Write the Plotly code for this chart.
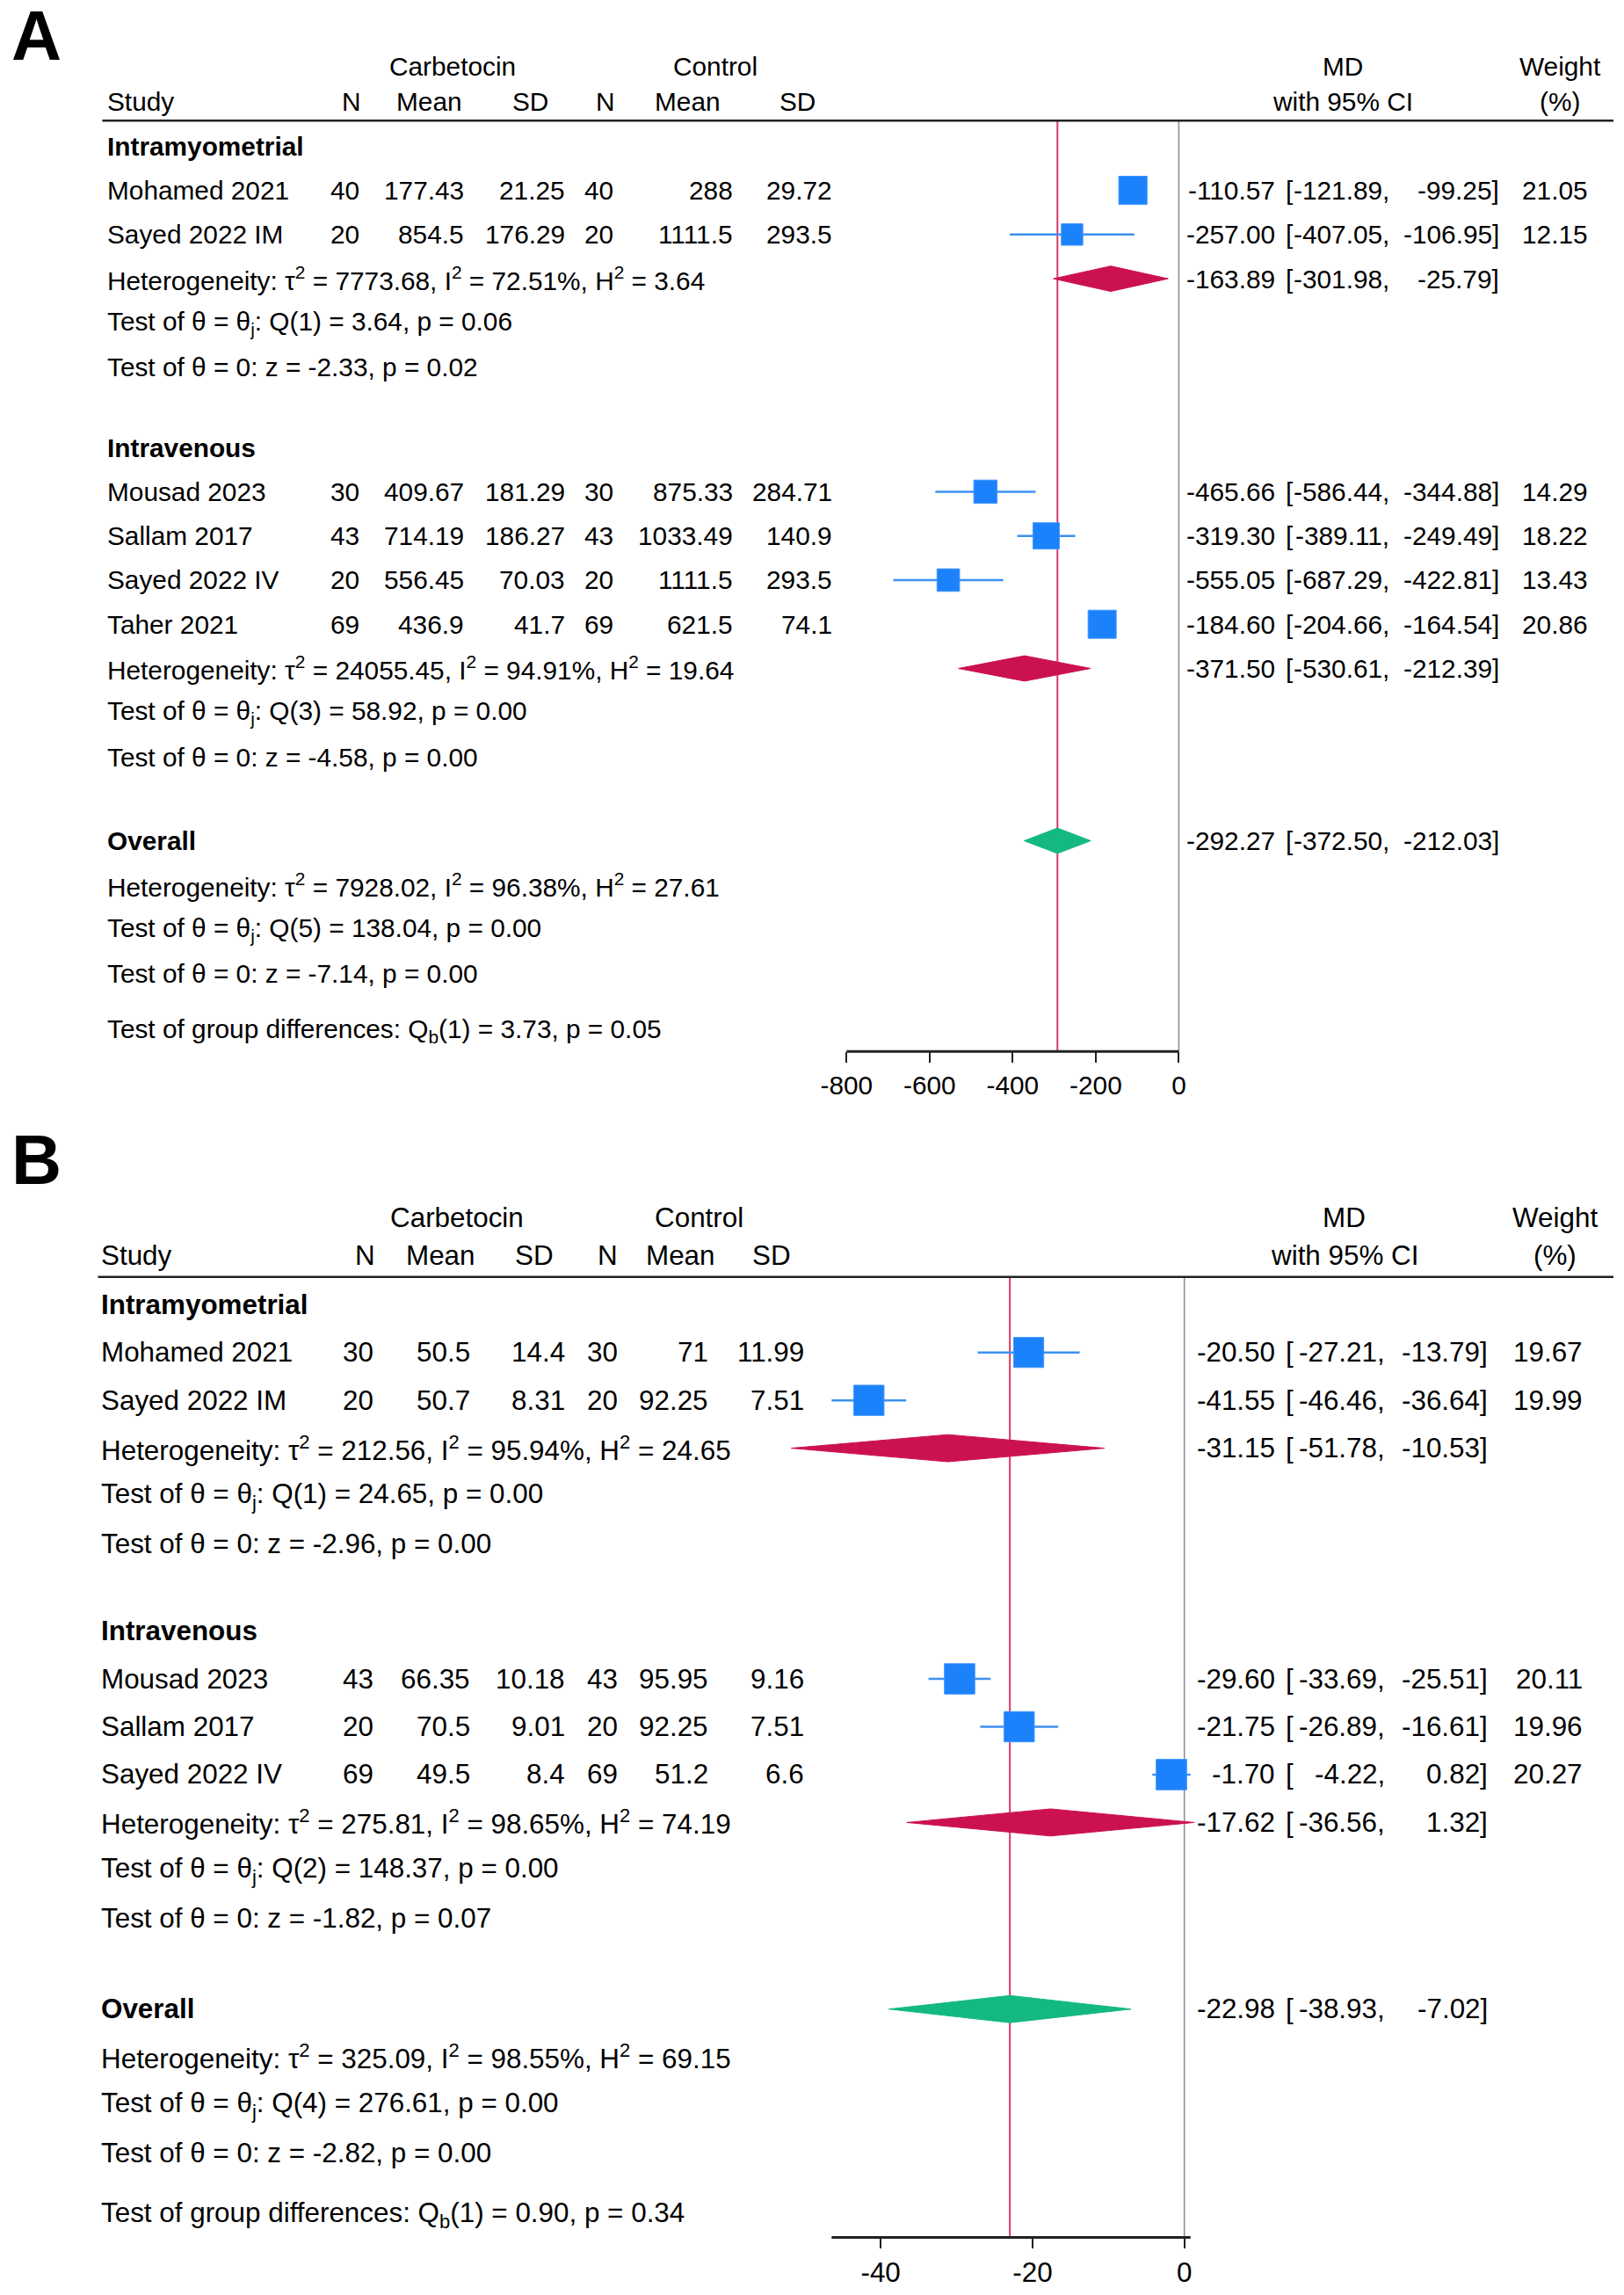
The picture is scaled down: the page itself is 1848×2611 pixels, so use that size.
import plotly.graph_objects as go

W, H = 1848, 2611
OFF = 8  # page body margin of the html file
FW, FH = W - 2 * OFF, H - 2 * OFF
STRETCH = 1.002
FONT = "Liberation Sans, Arial, Helvetica, sans-serif"

# ---------------- Panel A data ----------------
a_groups = ["Intramyometrial", "Intravenous"]
a_group_sizes = [2, 4]
a_study = ["Mohamed 2021", "Sayed 2022 IM", "Mousad 2023", "Sallam 2017", "Sayed 2022 IV", "Taher 2021"]
a_n1 = [40, 20, 30, 43, 20, 69]
a_mean1 = [177.43, 854.5, 409.67, 714.19, 556.45, 436.9]
a_sd1 = [21.25, 176.29, 181.29, 186.27, 70.03, 41.7]
a_n2 = [40, 20, 30, 43, 20, 69]
a_mean2 = [288, 1111.5, 875.33, 1033.49, 1111.5, 621.5]
a_sd2 = [29.72, 293.5, 284.71, 140.9, 293.5, 74.1]
a_md = [-110.57, -257.00, -465.66, -319.30, -555.05, -184.60]
a_lo = [-121.89, -407.05, -586.44, -389.11, -687.29, -204.66]
a_hi = [-99.25, -106.95, -344.88, -249.49, -422.81, -164.54]
a_wt = [21.05, 12.15, 14.29, 18.22, 13.43, 20.86]
# subgroups + overall: estimate, lower, upper
a_sub_md = [-163.89, -371.50, -292.27]
a_sub_lo = [-301.98, -530.61, -372.50]
a_sub_hi = [-25.79, -212.39, -212.03]
# heterogeneity stats: tau2, I2, H2, Q df, Q, p, z, p(z)
a_tau2 = [7773.68, 24055.45, 7928.02]
a_i2 = [72.51, 94.91, 96.38]
a_h2 = [3.64, 19.64, 27.61]
a_qdf = [1, 3, 5]
a_q = [3.64, 58.92, 138.04]
a_qp = [0.06, 0.00, 0.00]
a_z = [-2.33, -4.58, -7.14]
a_zp = [0.02, 0.00, 0.00]
a_qb = [1, 3.73, 0.05]  # df, Qb, p
a_ticks = [-800, -600, -400, -200, 0]

# ---------------- Panel B data ----------------
b_groups = ["Intramyometrial", "Intravenous"]
b_group_sizes = [2, 3]
b_study = ["Mohamed 2021", "Sayed 2022 IM", "Mousad 2023", "Sallam 2017", "Sayed 2022 IV"]
b_n1 = [30, 20, 43, 20, 69]
b_mean1 = [50.5, 50.7, 66.35, 70.5, 49.5]
b_sd1 = [14.4, 8.31, 10.18, 9.01, 8.4]
b_n2 = [30, 20, 43, 20, 69]
b_mean2 = [71, 92.25, 95.95, 92.25, 51.2]
b_sd2 = [11.99, 7.51, 9.16, 7.51, 6.6]
b_md = [-20.50, -41.55, -29.60, -21.75, -1.70]
b_lo = [-27.21, -46.46, -33.69, -26.89, -4.22]
b_hi = [-13.79, -36.64, -25.51, -16.61, 0.82]
b_wt = [19.67, 19.99, 20.11, 19.96, 20.27]
b_sub_md = [-31.15, -17.62, -22.98]
b_sub_lo = [-51.78, -36.56, -38.93]
b_sub_hi = [-10.53, 1.32, -7.02]
b_tau2 = [212.56, 275.81, 325.09]
b_i2 = [95.94, 98.65, 98.55]
b_h2 = [24.65, 74.19, 69.15]
b_qdf = [1, 2, 4]
b_q = [24.65, 148.37, 276.61]
b_qp = [0.00, 0.00, 0.00]
b_z = [-2.96, -1.82, -2.82]
b_zp = [0.00, 0.07, 0.00]
b_qb = [1, 0.90, 0.34]
b_ticks = [-40, -20, 0]

panels = [
    dict(label="A", xa="x", ya="y",
         groups=a_groups, sizes=a_group_sizes, study=a_study,
         cols=[a_n1, a_mean1, a_sd1, a_n2, a_mean2, a_sd2],
         md=a_md, lo=a_lo, hi=a_hi, wt=a_wt,
         smd=a_sub_md, slo=a_sub_lo, shi=a_sub_hi,
         tau2=a_tau2, i2=a_i2, h2=a_h2, qdf=a_qdf, q=a_q, qp=a_qp, z=a_z, zp=a_zp, qb=a_qb,
         ticks=a_ticks, axis_ext=[-800, 0],
         # layout (pixels of the reference picture)
         row0=167, step=50.5, fs=29.8, label_row=-2.5, top_row=-3.0,
         zero_px=1342.7, ppu=0.4752, xr=[-850, 10], sq=7.0, dh=14.5,
         study_x=115, col_r=[407, 527, 642, 698, 835, 948],
         head_c=[396, 485, 601, 687, 781, 906], carb_c=512, ctrl_c=812,
         md_c=1530, wt_c=1779, est_r=1455, brk_l=1463, lo_r=1586, hi_r=1711, wt_r=1813,
         rule_x0=111),
    dict(label="B", xa="x2", ya="y2",
         groups=b_groups, sizes=b_group_sizes, study=b_study,
         cols=[b_n1, b_mean1, b_sd1, b_n2, b_mean2, b_sd2],
         md=b_md, lo=b_lo, hi=b_hi, wt=b_wt,
         smd=b_sub_md, slo=b_sub_lo, shi=b_sub_hi,
         tau2=b_tau2, i2=b_i2, h2=b_h2, qdf=b_qdf, q=b_q, qp=b_qp, z=b_z, zp=b_zp, qb=b_qb,
         ticks=b_ticks, axis_ext=[min(b_lo), max(b_hi)],
         row0=1491, step=54.7, fs=31.4, label_row=-3.03, top_row=-3.2,
         zero_px=1349, ppu=8.686, xr=[-53, 2], sq=7.7, dh=15.5,
         study_x=108, col_r=[423, 534, 642, 703, 806, 916],
         head_c=[412, 498, 605, 689, 773, 877], carb_c=517, ctrl_c=794,
         md_c=1532, wt_c=1773, est_r=1455, brk_l=1463, lo_r=1581, hi_r=1698, wt_r=1807,
         rule_x0=106),
]

BLUE = "#1b82fb"
CI_BLUE = "#3d91f0"
RED = "#cc1152"
GREEN = "#14b97f"
REFLINE = "#d83a62"

fig = go.Figure()
annotations = []
shapes = []
layout_axes = {}


def px_x(px):
    return (px - OFF) / FW


def px_y(py):
    return 1 - (py * STRETCH - OFF) / FH


def txt(p, x_px, row, s, anchor, size=None, bold=False):
    if bold:
        s = "<b>" + s + "</b>"
    annotations.append(dict(
        x=px_x(x_px), xref="paper", y=row, yref=p["ya"], text=s, showarrow=False,
        xanchor=anchor, yanchor="middle",
        font=dict(family=FONT, size=size or p["fs"], color="black")))


def het_lines(p, k):
    return [
        f"Heterogeneity: τ<sup>2</sup> = {p['tau2'][k]:.2f}, I<sup>2</sup> = {p['i2'][k]:.2f}%, "
        f"H<sup>2</sup> = {p['h2'][k]:.2f}",
        f"Test of θ = θ<sub>j</sub>: Q({p['qdf'][k]}) = {p['q'][k]:.2f}, p = {p['qp'][k]:.2f}",
        f"Test of θ = 0: z = {p['z'][k]:.2f}, p = {p['zp'][k]:.2f}",
    ]


def ci_text(p, row, est, lo, hi, wt=None):
    txt(p, p["est_r"], row, f"{est:.2f}", "right")
    txt(p, p["brk_l"], row, "[", "left")
    txt(p, p["lo_r"], row, f"{lo:.2f},", "right")
    txt(p, p["hi_r"], row, f"{hi:.2f}]", "right")
    if wt is not None:
        txt(p, p["wt_r"], row, f"{wt:.2f}", "right")


for p in panels:
    # ---- row layout ----
    study_rows, sub_rows = [], []
    r = 0.0
    for gi, g in enumerate(p["groups"]):
        txt(p, p["study_x"], r, g, "left", bold=True)
        r += 1
        for _ in range(p["sizes"][gi]):
            study_rows.append(r)
            r += 1
        sub_rows.append(r)
        for j, line in enumerate(het_lines(p, gi)):
            txt(p, p["study_x"], r + j, line, "left")
        r += 2
        if gi < len(p["groups"]) - 1:
            r += 1.82
    r += 1.9
    txt(p, p["study_x"], r, "Overall", "left", bold=True)
    sub_rows.append(r)
    for j, line in enumerate(het_lines(p, 2)):
        txt(p, p["study_x"], r + 1 + j, line, "left")
    r += 3 + 1.3
    txt(p, p["study_x"], r,
        f"Test of group differences: Q<sub>b</sub>({p['qb'][0]}) = {p['qb'][1]:.2f}, p = {p['qb'][2]:.2f}",
        "left")
    axis_row = r + 0.47
    rule_row = -0.58

    # ---- study table text ----
    for i, name in enumerate(p["study"]):
        rr = study_rows[i]
        txt(p, p["study_x"], rr, name, "left")
        for c, col in enumerate(p["cols"]):
            txt(p, p["col_r"][c], rr, str(col[i]), "right")
        ci_text(p, rr, p["md"][i], p["lo"][i], p["hi"][i], p["wt"][i])
    for k, rr in enumerate(sub_rows):
        ci_text(p, rr, p["smd"][k], p["slo"][k], p["shi"][k])

    # ---- headers ----
    txt(p, 36, p["label_row"], p["label"], "center", size=79, bold=True)
    txt(p, p["carb_c"], -1.81, "Carbetocin", "center")
    txt(p, p["ctrl_c"], -1.81, "Control", "center")
    txt(p, p["md_c"], -1.81, "MD", "center")
    txt(p, p["wt_c"], -1.81, "Weight", "center")
    txt(p, p["study_x"], -1.02, "Study", "left")
    for c, h in enumerate(["N", "Mean", "SD", "N", "Mean", "SD"]):
        txt(p, p["head_c"][c], -1.02, h, "center")
    txt(p, p["md_c"], -1.02, "with 95% CI", "center")
    txt(p, p["wt_c"], -1.02, "(%)", "center")
    shapes.append(dict(type="line", xref="paper", yref=p["ya"],
                       x0=px_x(p["rule_x0"]), x1=px_x(1840), y0=rule_row, y1=rule_row,
                       line=dict(color="#222222", width=2.5)))

    # ---- reference lines ----
    fig.add_trace(go.Scatter(x=[0, 0], y=[rule_row, axis_row], mode="lines",
                             line=dict(color="#8a8a8a", width=1.5),
                             xaxis=p["xa"], yaxis=p["ya"], hoverinfo="skip"))
    fig.add_trace(go.Scatter(x=[p["smd"][2], p["smd"][2]], y=[rule_row, axis_row], mode="lines",
                             line=dict(color=REFLINE, width=2),
                             xaxis=p["xa"], yaxis=p["ya"], hoverinfo="skip"))

    # ---- confidence intervals + squares ----
    cx, cy = [], []
    for i in range(len(p["study"])):
        cx += [p["lo"][i], p["hi"][i], None]
        cy += [study_rows[i], study_rows[i], None]
    fig.add_trace(go.Scatter(x=cx, y=cy, mode="lines", line=dict(color=CI_BLUE, width=2.5),
                             xaxis=p["xa"], yaxis=p["ya"], hoverinfo="skip"))
    fig.add_trace(go.Scatter(
        x=p["md"], y=study_rows, mode="markers",
        marker=dict(symbol="square", color=BLUE, opacity=1,
                    size=[p["sq"] * w ** 0.5 for w in p["wt"]],
                    line=dict(width=1, color="#3f95ff")),
        xaxis=p["xa"], yaxis=p["ya"], cliponaxis=False,
        hovertemplate="%{x:.2f}<extra></extra>"))

    # ---- diamonds ----
    dh = p["dh"] / p["step"]
    for k, rr in enumerate(sub_rows):
        col = GREEN if k == len(sub_rows) - 1 else RED
        fig.add_trace(go.Scatter(
            x=[p["slo"][k], p["smd"][k], p["shi"][k], p["smd"][k], p["slo"][k]],
            y=[rr, rr - dh, rr, rr + dh, rr],
            mode="lines", fill="toself", fillcolor=col, line=dict(color=col, width=1),
            xaxis=p["xa"], yaxis=p["ya"], hoverinfo="skip"))

    # ---- x axis line ----
    shapes.append(dict(type="line", xref=p["xa"], yref=p["ya"] + " domain",
                       x0=p["axis_ext"][0], x1=p["axis_ext"][1], y0=0, y1=0,
                       line=dict(color="#222222", width=3)))

    # ---- axes ----
    x0_px = p["zero_px"] + p["xr"][0] * p["ppu"]
    x1_px = p["zero_px"] + p["xr"][1] * p["ppu"]
    top_px = p["row0"] + p["top_row"] * p["step"]
    bot_px = p["row0"] + axis_row * p["step"]
    xname = "xaxis" if p["xa"] == "x" else "xaxis" + p["xa"][1:]
    yname = "yaxis" if p["ya"] == "y" else "yaxis" + p["ya"][1:]
    layout_axes[xname] = dict(
        domain=[px_x(x0_px), px_x(x1_px)], range=p["xr"], anchor=p["ya"],
        tickmode="array", tickvals=p["ticks"], ticktext=[str(t) for t in p["ticks"]],
        ticks="outside", ticklen=12, tickwidth=2, tickcolor="#222222",
        showline=False, showgrid=False, zeroline=False,
        tickfont=dict(family=FONT, size=p["fs"], color="black"))
    layout_axes[yname] = dict(
        domain=[px_y(bot_px), min(1.0, px_y(top_px))], range=[axis_row, p["top_row"]],
        anchor=p["xa"], visible=False, showgrid=False, zeroline=False)

fig.update_layout(
    width=FW, height=FH, margin=dict(l=0, r=0, t=0, b=0),
    paper_bgcolor="white", plot_bgcolor="rgba(0,0,0,0)",
    showlegend=False, annotations=annotations, shapes=shapes,
    font=dict(family=FONT, color="black"),
    **layout_axes)

fig.write_html("out.html")
